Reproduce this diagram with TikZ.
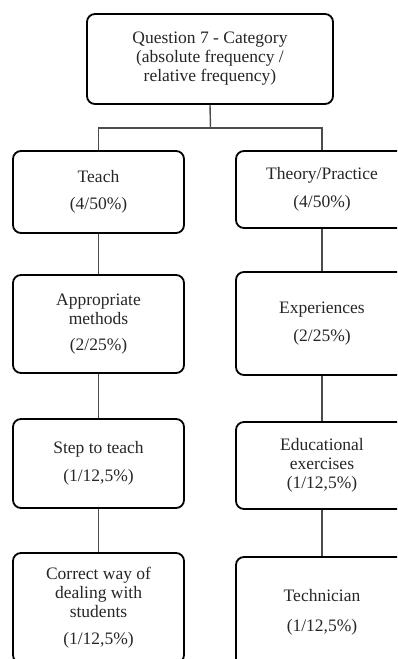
\documentclass[tikz,border=0pt]{standalone}
\usepackage{fontspec}
\setmainfont{Liberation Serif}
\begin{document}
\begin{tikzpicture}[x=1pt,y=1pt,
  box/.style={draw=black, line width=1.8pt, rounded corners=8pt, align=center,
    inner sep=0pt, font=\fontsize{17.5}{19}\selectfont, text=black!85},
  conn/.style={draw=black!70, line width=1.4pt}]
\useasboundingbox (0,0) rectangle (397,-659);
\clip (0,0) rectangle (397,-659);
% top
\node[box, minimum width=246pt, minimum height=90pt] (top) at (210,-59)
  {Question 7 - Category\\(absolute frequency /\\relative frequency)};
% left column
\node[box, minimum width=171pt, minimum height=82pt] (teach) at (98.5,-192)
  {Teach\\[8pt](4/50\%)};
\node[box, minimum width=171pt, minimum height=98pt] (approp) at (98.5,-324)
  {Appropriate\\methods\\[7pt](2/25\%)};
\node[box, minimum width=171pt, minimum height=89pt] (step) at (98.5,-463.5)
  {Step to teach\\[9pt](1/12,5\%)};
\node[box, minimum width=171pt, minimum height=110pt] (correct) at (98.5,-608)
  {Correct way of\\dealing with\\students\\[8pt](1/12,5\%)};
% right column
\node[box, minimum width=172pt, minimum height=77pt] (theory) at (322,-189.5)
  {Theory/Practice\\[9pt](4/50\%)};
\node[box, minimum width=172pt, minimum height=103pt] (exper) at (322,-323.5)
  {Experiences\\[9pt](2/25\%)};
\node[box, minimum width=172pt, minimum height=87pt] (educ) at (322,-465.5)
  {Educational\\exercises\\(1/12,5\%)};
\node[box, minimum width=172pt, minimum height=110pt] (tech) at (322,-612)
  {Technician\\[11pt](1/12,5\%)};
% connectors
\coordinate (bus) at (210.5,-128);
\draw[conn] (top.south) -- (bus);
\draw[conn] (teach.north) |- (bus) -| (theory.north);
\draw[conn] (teach.south) -- (approp.north);
\draw[conn] (approp.south) -- (step.north);
\draw[conn] (step.south) -- (correct.north);
\draw[conn] (theory.south) -- (exper.north);
\draw[conn] (exper.south) -- (educ.north);
\draw[conn] (educ.south) -- (tech.north);
\end{tikzpicture}
\end{document}
